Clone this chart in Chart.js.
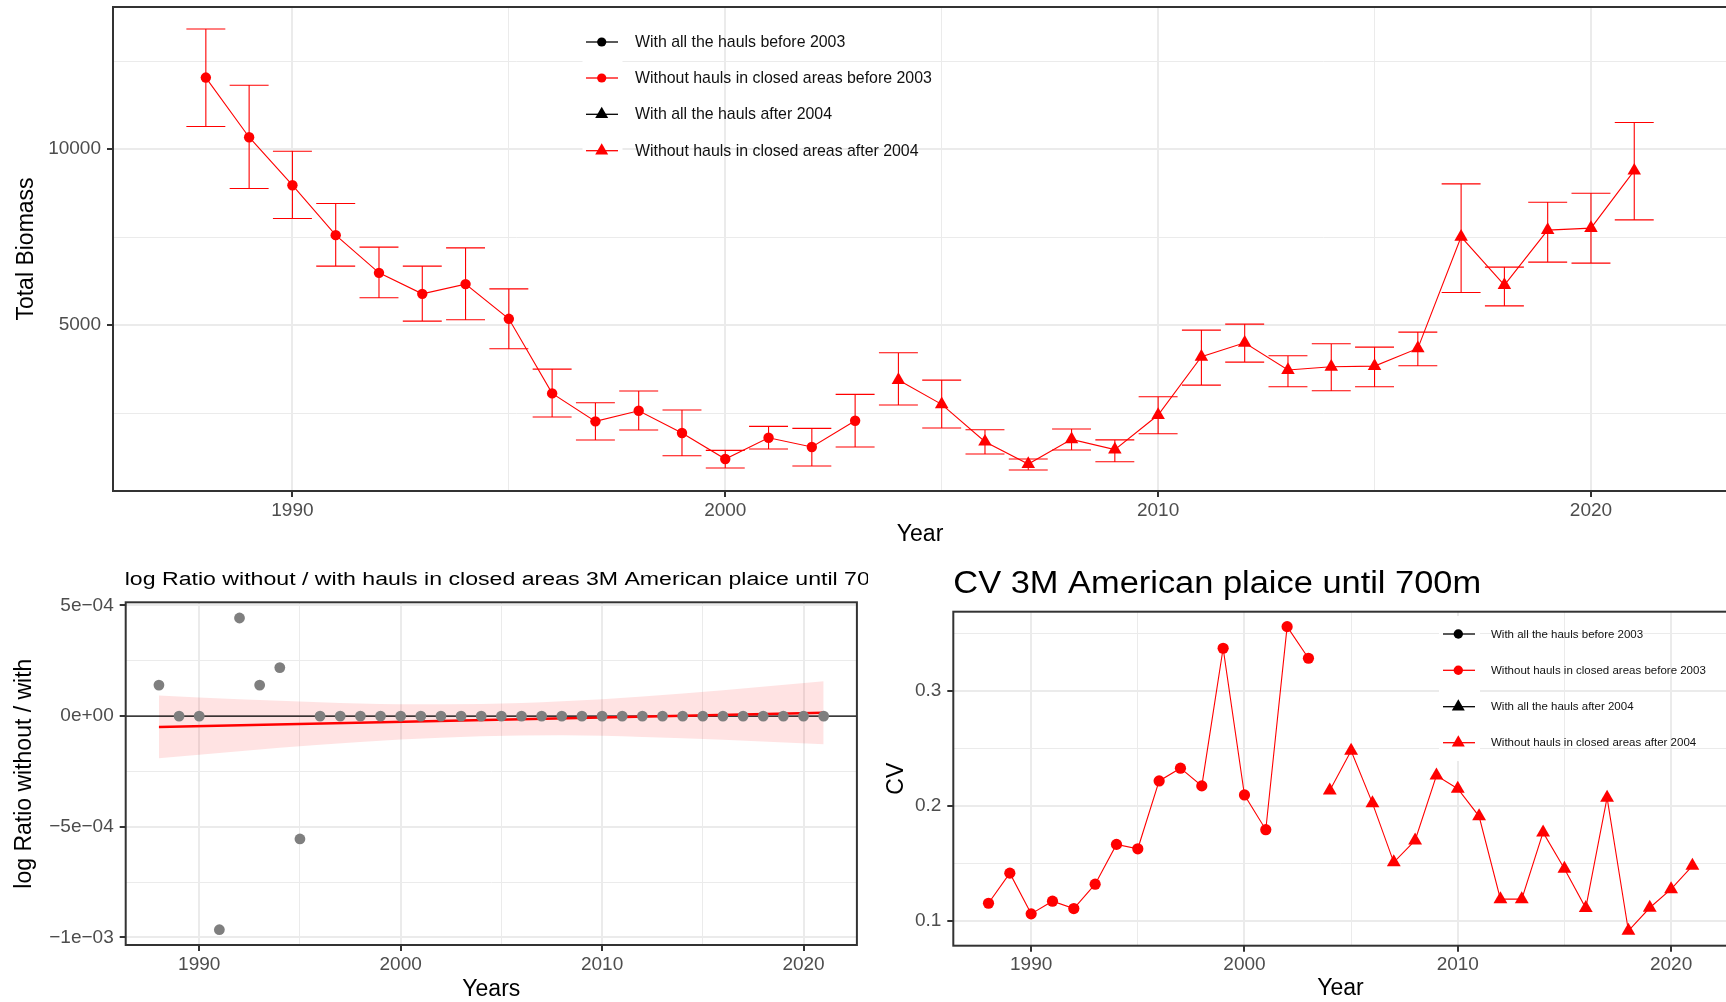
<!DOCTYPE html>
<html>
<head>
<meta charset="utf-8">
<title>3M American plaice – survey biomass, log ratio and CV</title>
<script src="https://cdn.jsdelivr.net/npm/chart.js@4.4.1/dist/chart.umd.min.js"></script>
<style>
  html, body { margin: 0; padding: 0; background: #ffffff; overflow: hidden; width: 1726px; height: 1002px; }
  canvas { position: absolute; }
  #biomass { left: 0; top: -20px; }
  #ratio { left: 0; top: 540px; }
  #cv { left: 872px; top: 540px; }
</style>
</head>
<body>
<canvas id="biomass" width="1760" height="565"></canvas>
<canvas id="ratio" width="868" height="462"></canvas>
<canvas id="cv" width="888" height="462"></canvas>
<script>
// ---- survey years ----
const years = [1988, 1989, 1990, 1991, 1992, 1993, 1994, 1995, 1996, 1997, 1998, 1999,
  2000, 2001, 2002, 2003, 2004, 2005, 2006, 2007, 2008, 2009, 2010, 2011,
  2012, 2013, 2014, 2015, 2016, 2017, 2018, 2019, 2020, 2021];
const lastYearBefore = 2003;   // circles up to here, triangles afterwards

// ---- total biomass (without hauls in closed areas) with error bars ----
const biomass = [12037, 10341, 8977, 7557, 6486, 5889, 6165, 5179, 3059, 2264, 2566, 1932,
  1193, 1798, 1534, 2281, 3437, 2747, 1685, 1051, 1751, 1460, 2443, 4100,
  4497, 3722, 3816, 3835, 4338, 7508, 6136, 7699, 7756, 9390];
const biomassLow = [10645, 8883, 8031, 6676, 5776, 5113, 5151, 4327, 2386, 1733, 2017, 1287,
  937, 1477, 994, 1534, 2727, 2074, 1335, 880, 1449, 1117, 1912, 3295,
  3949, 3248, 3134, 3248, 3844, 5929, 5548, 6790, 6761, 7992];
const biomassHigh = [13418, 11818, 9943, 8457, 7216, 6676, 7196, 6031, 3750, 2792, 3125, 2585,
  1440, 2121, 2065, 3031, 4213, 3437, 2026, 1193, 2045, 1737, 2963, 4858,
  5028, 4128, 4469, 4375, 4801, 9014, 6648, 8494, 8750, 10759];

// ---- log ratio without / with hauls in closed areas ----
const logRatio = [1.40e-4, 0, 0, -9.65e-4, 4.43e-4, 1.40e-4, 2.19e-4, -5.55e-4, 0, 0, 0, 0,
  0, 0, 0, 0, 0, 0, 0, 0, 0, 0, 0, 0,
  0, 0, 0, 0, 0, 0, 0, 0, 0, 0];
const fitYears = [1988, 2021];
const fitValues = [-4.9e-5, 1.5e-5];
const bandYears = [1988, 1992, 1996, 2000, 2004, 2008, 2012, 2016, 2021];
const bandUpper = [0.93e-4, 0.76e-4, 0.63e-4, 0.54e-4, 0.55e-4, 0.67e-4, 0.89e-4, 1.17e-4, 1.57e-4];
const bandLower = [-1.91e-4, -1.59e-4, -1.30e-4, -1.06e-4, -0.91e-4, -0.87e-4, -0.94e-4, -1.07e-4, -1.27e-4];
const ratioReference = 0;

// ---- CV ----
const cvYearsBefore = [1988, 1989, 1990, 1991, 1992, 1993, 1994, 1995, 1996, 1997, 1998, 1999,
  2000, 2001, 2002, 2003];
const cvBefore = [0.1154, 0.1416, 0.1062, 0.1172, 0.1108, 0.1320, 0.1666, 0.1628, 0.2218, 0.2329,
  0.2175, 0.3372, 0.2096, 0.1794, 0.3560, 0.3285];
const cvYearsAfter = [2004, 2005, 2006, 2007, 2008, 2009, 2010, 2011, 2012, 2013, 2014, 2015,
  2016, 2017, 2018, 2019, 2020, 2021];
const cvAfter = [0.2135, 0.2480, 0.2025, 0.1510, 0.1700, 0.2265, 0.2150, 0.1910, 0.1190, 0.1190,
  0.1770, 0.1455, 0.1112, 0.2072, 0.0915, 0.1115, 0.1277, 0.1480];

// ---- axis ticks ----
const yearTicks = [1990, 1995, 2000, 2005, 2010, 2015, 2020];
const yearTickLabels = ['1990', '', '2000', '', '2010', '', '2020'];
const biomassTicks = [2500, 5000, 7500, 10000, 12500];
const biomassTickLabels = ['', '5000', '', '10000', ''];
const ratioTicks = [-1e-3, -7.5e-4, -5e-4, -2.5e-4, 0, 2.5e-4, 5e-4];
const ratioTickLabels = ['\u22121e\u221203', '', '\u22125e\u221204', '', '0e+00', '', '5e\u221204'];
const cvTicks = [0.1, 0.15, 0.2, 0.25, 0.3, 0.35];
const cvTickLabels = ['0.1', '', '0.2', '', '0.3', ''];

// ---- legend ----
const legendLabels = ['With all the hauls before 2003', 'Without hauls in closed areas before 2003',
  'With all the hauls after 2004', 'Without hauls in closed areas after 2004'];
const legendColors = ['#000000', '#FF0000', '#000000', '#FF0000'];
const legendShapes = ['circle', 'circle', 'triangle', 'triangle'];

// ---------------------------------------------------------------
const FONT = "'Liberation Sans', Arial, Helvetica, sans-serif";
const TICK_TEXT = '#4D4D4D';
const RED = '#FF0000';

function toPoints(xs, ys) { return xs.map((x, i) => ({ x: x, y: ys[i] })); }

function gridStyle(labels) {
  return {
    color: '#EBEBEB',
    lineWidth: c => (labels[c.index] ? 2 : 1),
    tickLength: 6,
    tickWidth: 2,
    tickColor: c => (labels[c.index] ? '#333333' : 'rgba(0,0,0,0)')
  };
}

function yearAxis(min, max, height) {
  return {
    type: 'linear', position: 'bottom', min: min, max: max,
    afterBuildTicks: s => { s.ticks = yearTicks.map(v => ({ value: v })); },
    afterFit: s => { s.height = height; },
    ticks: {
      autoSkip: false, maxRotation: 0, minRotation: 0, padding: 2,
      color: TICK_TEXT, font: { family: FONT, size: 19 },
      callback: (v, i) => yearTickLabels[i]
    },
    grid: gridStyle(yearTickLabels),
    border: { display: false }
  };
}

function valueAxis(min, max, ticks, labels, width) {
  return {
    type: 'linear', position: 'left', min: min, max: max,
    afterBuildTicks: s => { s.ticks = ticks.map(v => ({ value: v })); },
    afterFit: s => { s.width = width; },
    ticks: {
      autoSkip: false, padding: 6,
      color: TICK_TEXT, font: { family: FONT, size: 19 },
      callback: (v, i) => labels[i]
    },
    grid: gridStyle(labels),
    border: { display: false }
  };
}

// dark frame around the panel, drawn over the data
const panelBorder = {
  id: 'panelBorder',
  afterDatasetsDraw(chart) {
    const { ctx, chartArea: a } = chart;
    ctx.save();
    ctx.strokeStyle = '#333333';
    ctx.lineWidth = 2;
    ctx.strokeRect(a.left, a.top, a.right - a.left, a.bottom - a.top);
    ctx.restore();
  }
};

// axis titles and panel titles
function panelText(items) {
  return {
    id: 'panelText',
    afterDraw(chart) {
      const { ctx, chartArea: a } = chart;
      items.forEach(it => {
        const p = it.at(a);
        ctx.save();
        ctx.translate(p.x, p.y);
        if (it.rotate) ctx.rotate(it.rotate);
        if (it.scaleX) ctx.scale(it.scaleX, 1);
        ctx.font = it.size + 'px ' + FONT;
        ctx.fillStyle = it.color || '#000000';
        ctx.textAlign = it.align || 'center';
        ctx.textBaseline = 'alphabetic';
        ctx.fillText(it.text, 0, 0);
        ctx.restore();
      });
    }
  };
}

// vertical error bars with caps
function errorBars(xs, lows, highs, halfWidth) {
  return {
    id: 'errorBars',
    beforeDatasetsDraw(chart) {
      const { ctx } = chart;
      const xs_ = chart.scales.x, ys_ = chart.scales.y;
      ctx.save();
      ctx.strokeStyle = RED;
      ctx.lineWidth = 1.1;
      ctx.beginPath();
      xs.forEach((yr, i) => {
        const px = xs_.getPixelForValue(yr);
        const w = xs_.getPixelForValue(yr + halfWidth) - px;
        const pl = ys_.getPixelForValue(lows[i]);
        const ph = ys_.getPixelForValue(highs[i]);
        ctx.moveTo(px, pl); ctx.lineTo(px, ph);
        ctx.moveTo(px - w, ph); ctx.lineTo(px + w, ph);
        ctx.moveTo(px - w, pl); ctx.lineTo(px + w, pl);
      });
      ctx.stroke();
      ctx.restore();
    }
  };
}

function drawMarker(ctx, shape, cx, cy, r) {
  ctx.beginPath();
  if (shape === 'circle') {
    ctx.arc(cx, cy, r, 0, Math.PI * 2);
  } else {
    const s = Math.sin(Math.PI * 2 / 3) * r;
    ctx.moveTo(cx, cy - r);
    ctx.lineTo(cx + s, cy + r / 2);
    ctx.lineTo(cx - s, cy + r / 2);
    ctx.closePath();
  }
  ctx.fill();
}

// legend placed inside the panel
function keyLegend(cfg) {
  return {
    id: 'keyLegend',
    afterDatasetsDraw(chart) {
      const { ctx } = chart;
      ctx.save();
      ctx.fillStyle = '#FFFFFF';
      ctx.fillRect(cfg.bg.x, cfg.bg.y, cfg.bg.w, cfg.bg.h);
      legendLabels.forEach((label, i) => {
        const y = cfg.rows[i];
        ctx.strokeStyle = legendColors[i];
        ctx.lineWidth = 1.3;
        ctx.beginPath();
        ctx.moveTo(cfg.x1, y); ctx.lineTo(cfg.x2, y);
        ctx.stroke();
        ctx.fillStyle = legendColors[i];
        drawMarker(ctx, legendShapes[i], cfg.cx, y,
          legendShapes[i] === 'circle' ? cfg.rCircle : cfg.rTriangle);
        ctx.fillStyle = '#111111';
        ctx.font = cfg.size + 'px ' + FONT;
        ctx.textAlign = 'left';
        ctx.textBaseline = 'middle';
        ctx.fillText(label, cfg.textX, y + 0.5);
      });
      ctx.restore();
    }
  };
}

const baseOptions = (padding) => ({
  responsive: false,
  maintainAspectRatio: false,
  animation: false,
  devicePixelRatio: 1,
  events: [],
  layout: { padding: padding },
  plugins: { legend: { display: false }, tooltip: { enabled: false }, title: { display: false } }
});

// ================= Total biomass =================
(function () {
  const before = years.map((y, i) => i).filter(i => years[i] <= lastYearBefore);
  const after = years.map((y, i) => i).filter(i => years[i] > lastYearBefore);
  const opts = baseOptions({ left: 0, top: 27, right: 32.9, bottom: 0 });
  opts.scales = {
    x: yearAxis(1985.855, 2023.145, 54),
    y: valueAxis(284, 14043, biomassTicks, biomassTickLabels, 113)
  };
  new Chart(document.getElementById('biomass'), {
    type: 'line',
    data: {
      datasets: [
        {
          label: legendLabels[1],
          data: before.map(i => ({ x: years[i], y: biomass[i] })),
          borderColor: RED, borderWidth: 1.1,
          pointStyle: 'circle', pointRadius: 5.2,
          pointBackgroundColor: RED, pointBorderWidth: 0, tension: 0
        },
        {
          label: legendLabels[3],
          data: after.map(i => ({ x: years[i], y: biomass[i] })),
          borderColor: RED, borderWidth: 1.1,
          pointStyle: 'triangle', pointRadius: 7.8,
          pointBackgroundColor: RED, pointBorderWidth: 0, tension: 0
        }
      ]
    },
    options: opts,
    plugins: [
      errorBars(years, biomassLow, biomassHigh, 0.45),
      panelBorder,
      keyLegend({ bg: { x: 582.5, y: 44, w: 40, h: 145 }, rows: [62, 98, 134.3, 170.7],
        x1: 586, x2: 618, cx: 601.7, textX: 635, size: 15.9, rCircle: 4.6, rTriangle: 7.5 }),
      panelText([
        { text: 'Total Biomass', size: 23, rotate: -Math.PI / 2,
          at: a => ({ x: 32.5, y: (a.top + a.bottom) / 2 }) },
        { text: 'Year', size: 23, at: a => ({ x: (a.left + a.right) / 2, y: a.bottom + 49.5 }) }
      ])
    ]
  });
})();

// ================= log ratio =================
(function () {
  const opts = baseOptions({ left: 0, top: 62.3, right: 11.1, bottom: 0 });
  opts.scales = {
    x: yearAxis(1986.35, 2022.65, 57),
    y: valueAxis(-1.034e-3, 5.14e-4, ratioTicks, ratioTickLabels, 125.7)
  };
  const zeroLine = {
    id: 'zeroLine',
    afterDatasetDraw(chart, args) {
      if (args.index !== 2) return;
      const { ctx, chartArea: a } = chart;
      const y = chart.scales.y.getPixelForValue(ratioReference);
      ctx.save();
      ctx.strokeStyle = '#000000';
      ctx.lineWidth = 1.4;
      ctx.beginPath();
      ctx.moveTo(a.left, y); ctx.lineTo(a.right, y);
      ctx.stroke();
      ctx.restore();
    }
  };
  new Chart(document.getElementById('ratio'), {
    type: 'line',
    data: {
      datasets: [
        {
          label: 'log ratio',
          data: toPoints(years, logRatio),
          showLine: false,
          pointStyle: 'circle', pointRadius: 5.4,
          pointBackgroundColor: '#7F7F7F', pointBorderWidth: 0
        },
        {
          label: 'linear fit',
          data: toPoints(fitYears, fitValues),
          borderColor: RED, borderWidth: 2.6, pointRadius: 0, tension: 0
        },
        {
          label: 'upper',
          data: toPoints(bandYears, bandUpper),
          borderWidth: 0, pointRadius: 0,
          cubicInterpolationMode: 'monotone',
          fill: '+1', backgroundColor: 'rgba(255,0,0,0.11)'
        },
        {
          label: 'lower',
          data: toPoints(bandYears, bandLower),
          borderWidth: 0, pointRadius: 0,
          cubicInterpolationMode: 'monotone', fill: false
        }
      ]
    },
    options: opts,
    plugins: [
      zeroLine,
      panelBorder,
      panelText([
        { text: 'log Ratio without / with hauls in closed areas 3M American plaice until 700m',
          size: 18, scaleX: 1.284, align: 'left',
          at: a => ({ x: a.left - 1, y: a.top - 17.3 }) },
        { text: 'log Ratio without / with', size: 23, rotate: -Math.PI / 2,
          at: a => ({ x: 31, y: (a.top + a.bottom) / 2 }) },
        { text: 'Years', size: 23, at: a => ({ x: (a.left + a.right) / 2, y: a.bottom + 51 }) }
      ])
    ]
  });
})();

// ================= CV =================
(function () {
  const opts = baseOptions({ left: 0, top: 71.7, right: 32.4, bottom: 0 });
  opts.scales = {
    x: yearAxis(1986.35, 2022.65, 56.3),
    y: valueAxis(0.0785, 0.369, cvTicks, cvTickLabels, 81.3)
  };
  new Chart(document.getElementById('cv'), {
    type: 'line',
    data: {
      datasets: [
        {
          label: legendLabels[1],
          data: toPoints(cvYearsBefore, cvBefore),
          borderColor: RED, borderWidth: 1.1,
          pointStyle: 'circle', pointRadius: 5.6,
          pointBackgroundColor: RED, pointBorderWidth: 0, tension: 0
        },
        {
          label: legendLabels[3],
          data: toPoints(cvYearsAfter, cvAfter),
          borderColor: RED, borderWidth: 1.1,
          pointStyle: 'triangle', pointRadius: 8,
          pointBackgroundColor: RED, pointBorderWidth: 0, tension: 0
        }
      ]
    },
    options: opts,
    plugins: [
      panelBorder,
      keyLegend({ bg: { x: 567, y: 76, w: 41, h: 145 }, rows: [94, 130.3, 166.7, 202.7],
        x1: 571, x2: 603, cx: 586.3, textX: 619, size: 11.5, rCircle: 4.7, rTriangle: 7.5 }),
      panelText([
        { text: 'CV 3M American plaice until 700m', size: 31, scaleX: 1.11, align: 'left',
          at: a => ({ x: a.left, y: a.top - 18.4 }) },
        { text: 'CV', size: 23, rotate: -Math.PI / 2,
          at: a => ({ x: 31, y: (a.top + a.bottom) / 2 }) },
        { text: 'Year', size: 23, at: a => ({ x: (a.left + a.right) / 2, y: a.bottom + 49.3 }) }
      ])
    ]
  });
})();
</script>
</body>
</html>
